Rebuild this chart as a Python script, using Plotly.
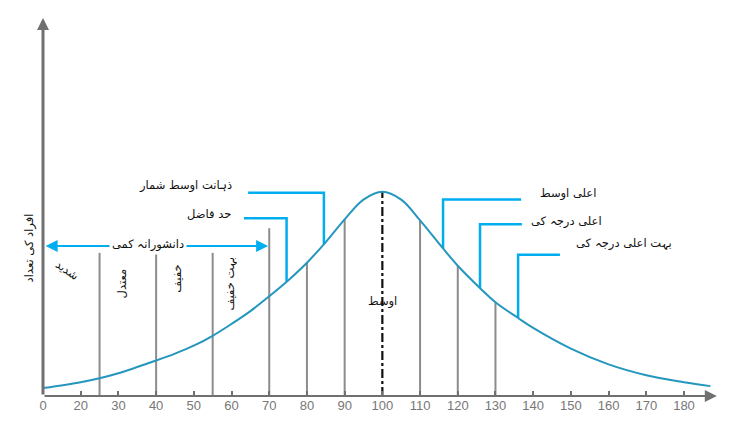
import numpy as np
import plotly.graph_objects as go

# ---- data ----
tick_vals = [10, 20, 30, 40, 50, 60, 70, 80, 90, 100, 110, 120, 130, 140, 150, 160, 170, 180]
tick_text = ["0", "20", "30", "40", "50", "60", "70", "80", "90", "100", "110", "120",
             "130", "140", "150", "160", "170", "180"]

curve_x = [10, 20, 25, 30, 40, 45, 50, 55, 60, 65, 70, 75, 80, 85, 90, 95, 100, 105, 110, 116,
           120, 126, 130, 136, 140, 150, 160, 170, 180, 187]
curve_y = [8, 14, 18, 23, 36, 43, 51, 61, 73, 86, 101, 117, 135, 156, 179, 199, 207, 199, 178, 150,
           132, 109, 95, 79, 69, 48, 32, 21, 14, 10]

divider_x = [25, 40, 55, 70]
divider_top = [145, 145, 145, 170]
bin_x = [80, 90, 110, 120, 130]
mean_x = 100

region_labels = ["شدید", "معتدل", "خفیف", "بہت خفیف"]
region_pos = [(16.4, 128, 35), (31.2, 114, -90), (45.3, 119, -90), (59.6, 113, -90)]

callout_labels = ["ذہانت اوسط شمار", "حد فاضل", "اعلی اوسط", "اعلی درجہ کی", "بہت اعلی درجہ کی"]
callout_target = [84.5, 74.6, 116.1, 125.9, 136.0]
callout_from = [64.4, 63.3, 136.8, 137.0, 147.1]
callout_level = [206, 180, 199, 174, 143]
callout_text_pos = [(60.7, 213, "right"), (60.4, 184, "right"), (141.3, 205, "left"),
                    (138.8, 177, "left"), (150.8, 155, "left")]

y_title = "افراد کی تعداد"
band_title = "دانشورانہ کمی"
mean_label = "اوسط"

GRAY = "#8c8c8c"
AXIS = "#707070"
BLUE = "#00aeef"
CURVE = "#2596be"
UR_FONT = dict(family="DejaVu Sans", size=11.5, color="#111")

fig = go.Figure()

def curve_at(x):
    return float(np.interp(x, curve_x, curve_y))

# divider lines
for x, top in zip(divider_x, divider_top):
    fig.add_trace(go.Scatter(x=[x, x], y=[0, top], mode="lines",
                             line=dict(color=GRAY, width=2), hoverinfo="skip"))
# bin lines up to the curve
for x in bin_x:
    fig.add_trace(go.Scatter(x=[x, x], y=[0, curve_at(x)], mode="lines",
                             line=dict(color=GRAY, width=2), hoverinfo="skip"))
# mean line
fig.add_trace(go.Scatter(x=[mean_x, mean_x], y=[0, curve_at(mean_x)], mode="lines",
                         line=dict(color="#111", width=2.2, dash="dashdot"), hoverinfo="skip"))

# callout leaders
for xt, xf, lv in zip(callout_target, callout_from, callout_level):
    fig.add_trace(go.Scatter(x=[xf, xt, xt], y=[lv, lv, curve_at(xt)], mode="lines",
                             line=dict(color=BLUE, width=2.5), hoverinfo="skip"))

# the curve
fig.add_trace(go.Scatter(x=curve_x, y=curve_y, mode="lines", line_shape="spline",
                         line=dict(color=CURVE, width=2, smoothing=1.0), hoverinfo="skip"))

annotations = []
# axes arrows
annotations.append(dict(x=10, y=383, ax=10, ay=0, xref="x", yref="y", axref="x", ayref="y",
                        showarrow=True, arrowhead=2, arrowsize=0.8, arrowwidth=3,
                        arrowcolor=AXIS, text=""))
annotations.append(dict(x=188.7, y=0, ax=10, ay=0, xref="x", yref="y", axref="x", ayref="y",
                        showarrow=True, arrowhead=2, arrowsize=1.2, arrowwidth=2,
                        arrowcolor=AXIS, text=""))
# double arrow
annotations.append(dict(x=69.7, y=152, ax=10.3, ay=152, xref="x", yref="y", axref="x", ayref="y",
                        showarrow=True, arrowhead=2, startarrowhead=2, arrowside="end+start",
                        arrowsize=1.2, startarrowsize=1.2, arrowwidth=2, arrowcolor=BLUE, text=""))
annotations.append(dict(x=37.9, y=154, xref="x", yref="y", text=band_title, showarrow=False,
                        font=UR_FONT, bgcolor="white", borderpad=2))
# region labels
for lab, (x, y, ang) in zip(region_labels, region_pos):
    annotations.append(dict(x=x, y=y, xref="x", yref="y", text=lab, showarrow=False,
                            textangle=ang, font=UR_FONT))
# callout texts
for lab, (x, y, anc) in zip(callout_labels, callout_text_pos):
    annotations.append(dict(x=x, y=y, xref="x", yref="y", text=lab, showarrow=False,
                            xanchor=anc, font=UR_FONT))
# mean label
annotations.append(dict(x=mean_x, y=96, xref="x", yref="y", text=mean_label, showarrow=False,
                        font=UR_FONT))
# y title
annotations.append(dict(x=-0.034, y=150, xref="paper", yref="y", text=y_title, showarrow=False,
                        textangle=-90, font=UR_FONT))

fig.update_layout(
    width=741, height=425,
    margin=dict(l=43, r=21, t=18, b=24),
    paper_bgcolor="white", plot_bgcolor="white",
    showlegend=False,
    annotations=annotations,
    xaxis=dict(range=[10, 10 + 677 / 3.7706], tickvals=tick_vals, ticktext=tick_text,
               showgrid=False, zeroline=False, showline=False,
               ticks="inside", ticklen=5, tickwidth=1.5, tickcolor=AXIS,
               tickfont=dict(family="Liberation Sans", size=13, color="#777")),
    yaxis=dict(range=[0, 383], visible=False),
)

fig.write_html("out.html")
